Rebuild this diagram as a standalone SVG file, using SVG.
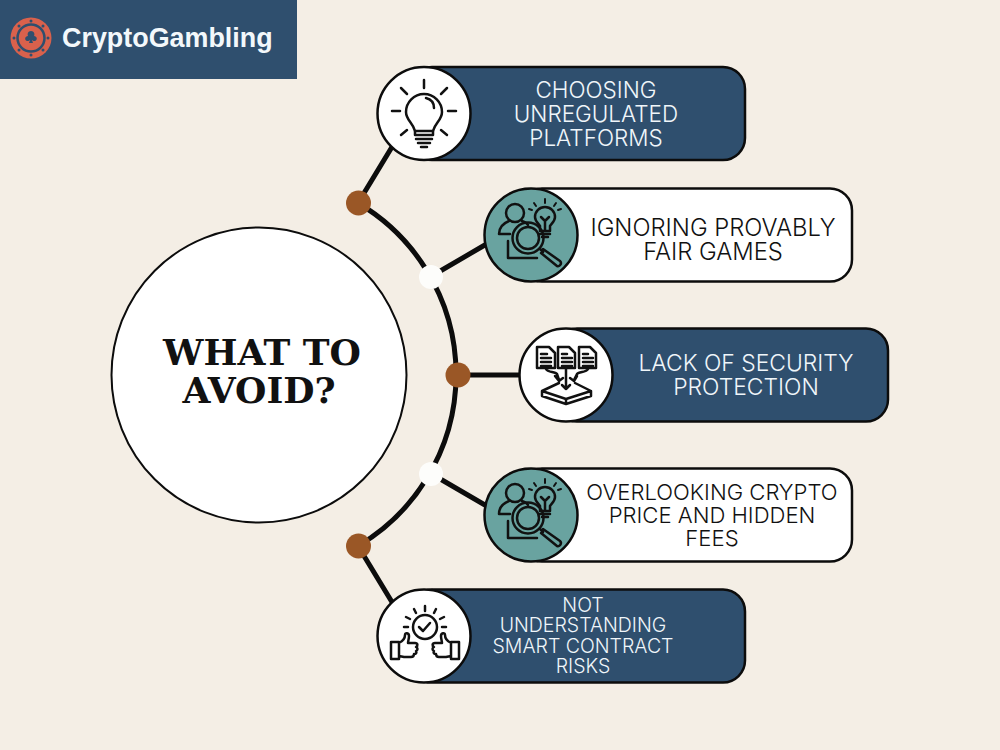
<svg xmlns="http://www.w3.org/2000/svg" xmlns:xlink="http://www.w3.org/1999/xlink" width="1000" height="750" viewBox="0 0 1000 750">
<style>
.pill{stroke:#0c0c0c;stroke-width:2.5}
.navy{fill:#2f4f6e}
.white{fill:#fff}
.teal{fill:#69a3a0}
.disc{stroke:#0c0c0c;stroke-width:2.5}
.lbl{font-family:Inter,"Noto Sans",sans-serif;font-size:22.500px;font-weight:300;text-anchor:middle}
.lt{fill:#f0f6fa}
.dk{fill:#111}
.wire{fill:none;stroke:#0c0c0c;stroke-width:5}
.ic{fill:none;stroke:#111;stroke-width:2.5;stroke-linecap:round;stroke-linejoin:round}
</style>
<defs>
<g id="search-icon" class="ic">
<circle cx="-16" cy="-22" r="9"/>
<path d="M-32-1c0-8 5-11 10-13M-9-14c3 1 5 2 6 4M-32-1h11"/>
<path d="M-23 6V23H6"/>
<circle cx="-3" cy="3" r="15.500"/>
<circle cx="-3" cy="3" r="11"/>
<path d="M9 14l3 3M12 14l17 12a3 3 0 0 1-3 5L10 18"/>
<path d="M4-18a10 10 0 1 1 20 0c0 4-3 6-5 9v5H9v-5c-2-3-5-5-5-9zM9-1h10M11 2h6M10-18l4 4 4-4M14-14V-4"/>
<path d="M14-36v4M3-32l2 3M25-32l-2 3M-2-26l3 1M30-26l-3 1" stroke-width="2"/>
</g>
</defs>

<rect width="1000" height="750" fill="#f4eee5"/>

<g id="brand">
<rect width="297" height="79" class="navy"/>
<circle cx="31" cy="38" r="20.500" fill="#d9614c"/>
<circle cx="31" cy="38" r="13.500" fill="none" stroke="#2f4f6e" stroke-width="2.500"/>
<path d="M31 31c-3 0-4 3-3 5-3 0-4 4-1 5 1 0 2 0 3-1l-1 3h4l-1-3c1 1 2 1 3 1 3-1 2-5-1-5 1-2 0-5-3-5z" fill="#2f4f6e"/>
<g fill="#2f4f6e"><circle cx="31" cy="21" r="1.500"/><circle cx="31" cy="55" r="1.500"/><circle cx="14" cy="38" r="1.500"/><circle cx="48" cy="38" r="1.500"/><circle cx="19" cy="26" r="1.500"/><circle cx="43" cy="26" r="1.500"/><circle cx="19" cy="50" r="1.500"/><circle cx="43" cy="50" r="1.500"/></g>
<text x="62" y="47" font-family="Liberation Sans,Arial,sans-serif" font-weight="700" font-size="26.900" fill="#f3f8fb">CryptoGambling</text>
</g>

<g id="connectors">
<path class="wire" d="M358 203A199 199 0 0 1 358 546"/>
<path class="wire" d="M358 203L398 137M430 277L490 242M458 375H525M430 473L490 508M358 546L398 612"/>
</g>

<g id="center">
<circle cx="259" cy="375" r="147.500" fill="#fff" stroke="#0c0c0c" stroke-width="2"/>
<text font-family="DejaVu Serif,serif" font-weight="700" font-size="36" text-anchor="middle" fill="#111"><tspan x="262" y="365">WHAT TO</tspan><tspan x="259" y="403">AVOID?</tspan></text>
</g>

<g id="junctions">
<circle cx="358.500" cy="203" r="12.500" fill="#9a5726"/>
<circle cx="431" cy="277" r="12" fill="#fdfdfb"/>
<circle cx="458" cy="375" r="12.500" fill="#9a5726"/>
<circle cx="431" cy="474" r="12" fill="#fdfdfb"/>
<circle cx="358.500" cy="546" r="12.500" fill="#9a5726"/>
</g>

<g id="node-1">
<rect x="410" y="67" width="335" height="93" rx="22" class="pill navy"/>
<circle cx="424" cy="113.500" r="46.500" class="disc white"/>
<g class="ic" stroke-width="2.800">
<path d="M406 112a18 18 0 1 1 36 0c0 8-7 11-9 19h-18c-2-8-9-11-9-19z"/>
<path d="M415 131v4h18v-4M416 139h16M418 143h12M421 147h6M426 98c4 1 8 4 8 10M424 80v8M401 88l6 6M447 88l-6 6M392 111h8M448 111h8M401 135l6-5M447 135l-6-5"/>
</g>
<text class="lbl lt"><tspan x="596" y="98">CHOOSING</tspan><tspan x="596" y="122">UNREGULATED</tspan><tspan x="596" y="146">PLATFORMS</tspan></text>
</g>

<g id="node-2">
<rect x="520" y="188.500" width="332" height="93" rx="22" class="pill white"/>
<circle cx="531" cy="235" r="46.500" class="disc teal"/>
<use href="#search-icon" x="531" y="235"/>
<text class="lbl dk" style="font-size:23.800px"><tspan x="713" y="236">IGNORING PROVABLY</tspan><tspan x="713" y="260">FAIR GAMES</tspan></text>
</g>

<g id="node-3">
<rect x="555" y="328.500" width="333" height="93" rx="22" class="pill navy"/>
<circle cx="566" cy="375" r="46.500" class="disc white"/>
<g class="ic" stroke-width="2.200">
<path d="M537 347h12l6 6v15h-18zM558 347h11l6 6v15h-17zM579 347h11l6 6v15h-17z"/>
<path d="M541 354h6M541 358h10M541 362h10M541 366h10M562 354h5M562 358h10M562 362h10M562 366h10M583 354h5M583 358h10M583 362h10M583 366h10"/>
<path d="M546 369c2 4 9 2 11 5l2 6M555 376l4 5 4-3M566 368v21M562 385l4 4 4-4M588 369c-2 4-9 2-11 5l-3 6M570 378l4 3 3-5"/>
<path d="M559 383l-17 8 24 8 25-8-16-8M542 391v5l24 8 25-8v-5M566 399v5"/>
</g>
<text class="lbl lt" style="font-size:22.900px"><tspan x="746" y="371">LACK OF SECURITY</tspan><tspan x="746" y="395">PROTECTION</tspan></text>
</g>

<g id="node-4">
<rect x="520" y="468.500" width="332" height="93" rx="22" class="pill white"/>
<circle cx="531" cy="515" r="46.500" class="disc teal"/>
<use href="#search-icon" x="531" y="515"/>
<text class="lbl dk" style="font-size:22.100px"><tspan x="712" y="500">OVERLOOKING CRYPTO</tspan><tspan x="712" y="523">PRICE AND HIDDEN</tspan><tspan x="712" y="546">FEES</tspan></text>
</g>

<g id="node-5">
<rect x="410" y="589.500" width="335" height="93" rx="22" class="pill navy"/>
<circle cx="424" cy="636" r="46.500" class="disc white"/>
<g class="ic" stroke-width="2.200">
<circle cx="425" cy="627" r="12"/>
<path d="M419 627l4 4 7-8M425 606v5M414 609l2 4M436 609l-2 4M406 617l4 2M444 617l-4 2M404 627h4M442 627h4"/>
<path d="M391 642h8v17h-8zM399 643c4-2 6-4 6-8 0-3 4-2 4 1 0 3-1 5-1 7h7c3 0 3 3 1 4 2 1 2 3 0 4 1 2 0 3-2 3 0 2-1 3-3 3h-7l-5-1"/>
<path d="M459 642h-8v17h8zM451 643c-4-2-6-4-6-8 0-3-4-2-4 1 0 3 1 5 1 7h-7c-3 0-3 3-1 4-2 1-2 3 0 4-1 2 0 3 2 3 0 2 1 3 3 3h7l5-1"/>
</g>
<text class="lbl lt" style="font-size:19.500px"><tspan x="583" y="612">NOT</tspan><tspan x="583" y="632">UNDERSTANDING</tspan><tspan x="583" y="653">SMART CONTRACT</tspan><tspan x="583" y="673">RISKS</tspan></text>
</g>
</svg>
